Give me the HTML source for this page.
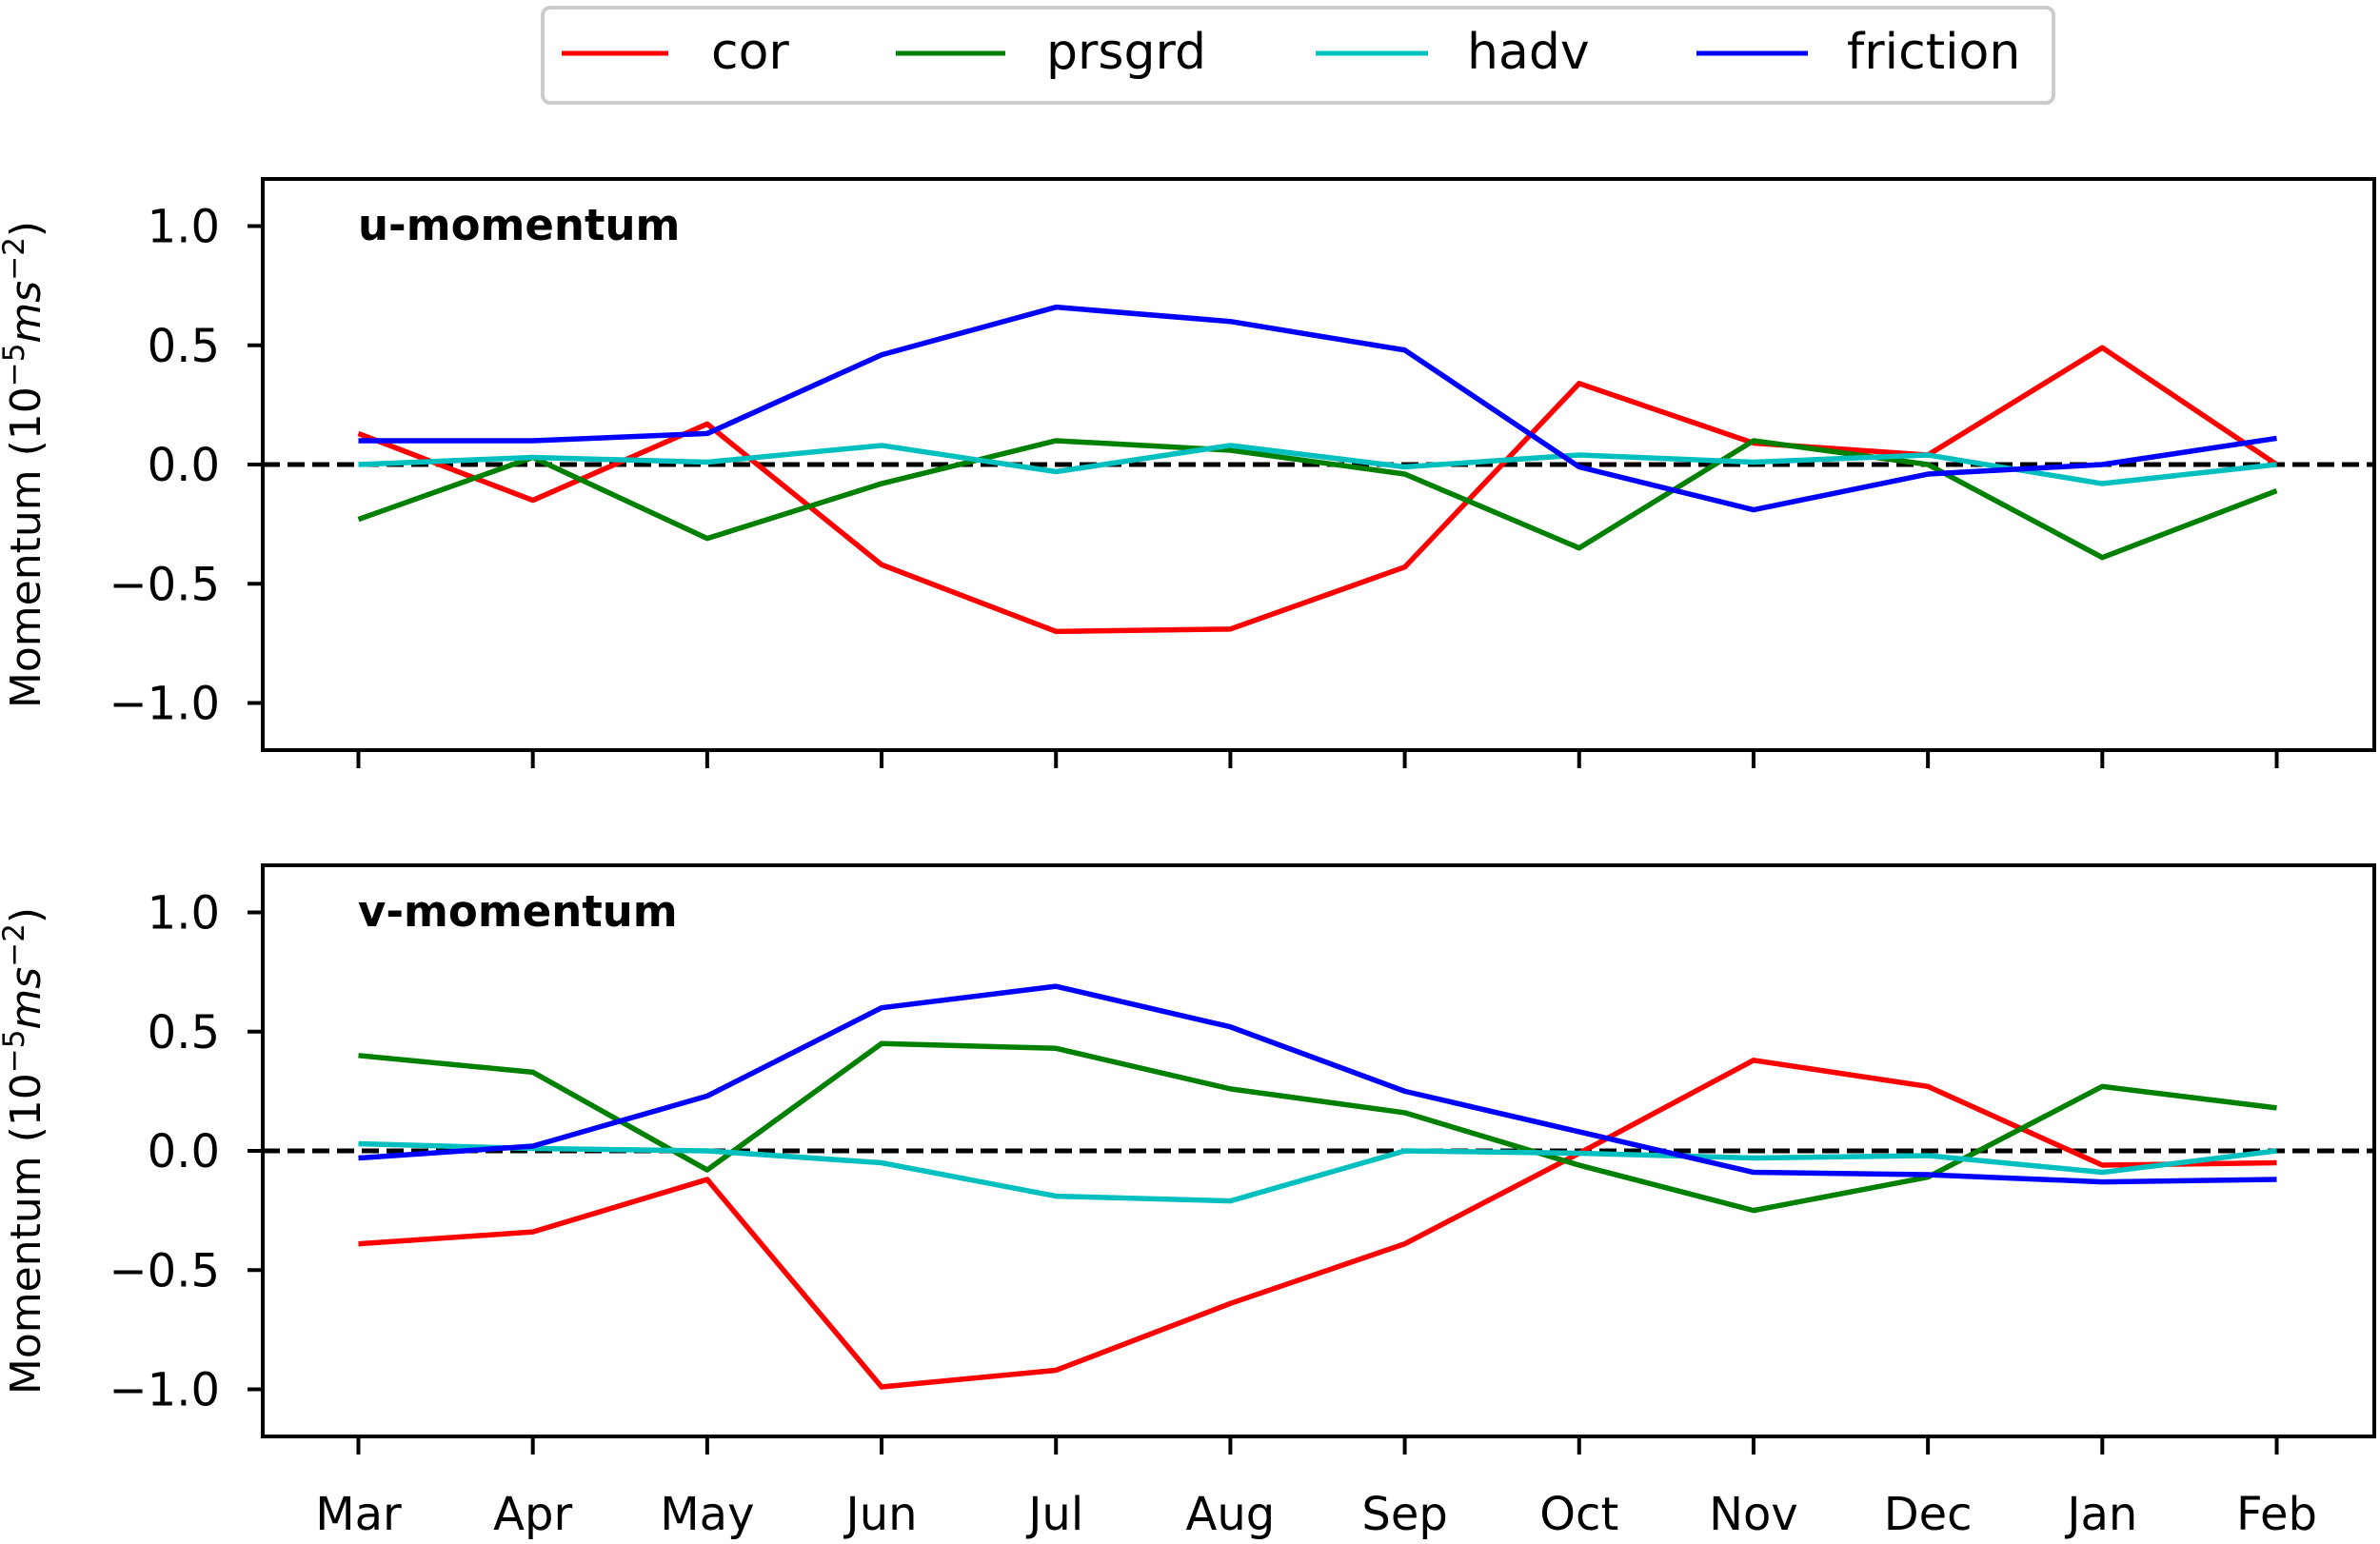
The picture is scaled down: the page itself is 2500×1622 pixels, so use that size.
<!DOCTYPE html>
<html><head><meta charset="utf-8"><style>
html,body{margin:0;padding:0;background:#fff;}
svg{display:block;font-family:"DejaVu Sans","Liberation Sans",sans-serif;}
</style></head><body>
<svg id="chart" width="2500" height="1622" viewBox="0 0 2500 1622" xmlns="http://www.w3.org/2000/svg">
<g>
<rect x="570" y="8" width="1587" height="100" rx="8" fill="#fff" stroke="#ccc" stroke-width="4"/>
<line x1="590" y1="56" x2="702" y2="56" stroke="#f00" stroke-width="5"/>
<text x="747" y="72" font-size="52">cor</text>
<line x1="941" y1="56" x2="1056" y2="56" stroke="#008000" stroke-width="5"/>
<text x="1099" y="72" font-size="52">prsgrd</text>
<line x1="1382" y1="56" x2="1500" y2="56" stroke="#00bfbf" stroke-width="5"/>
<text x="1541" y="72" font-size="52">hadv</text>
<line x1="1782" y1="56" x2="1899" y2="56" stroke="#00f" stroke-width="5"/>
<text x="1940" y="72" font-size="52">friction</text>
</g>
</svg>
<script>
const months=["Mar","Apr","May","Jun","Jul","Aug","Sep","Oct","Nov","Dec","Jan","Feb"];
const yTicks=[1.0,0.5,0.0,-0.5,-1.0];
const uCor=[0.13,-0.15,0.17,-0.42,-0.70,-0.69,-0.43,0.34,0.09,0.04,0.49,0.0];
const uPrs=[-0.23,0.03,-0.31,-0.08,0.10,0.06,-0.04,-0.35,0.10,0.0,-0.39,-0.11];
const uHadv=[0.0,0.03,0.01,0.08,-0.03,0.08,-0.01,0.04,0.01,0.04,-0.08,0.0];
const uFric=[0.10,0.10,0.13,0.46,0.66,0.60,0.48,-0.01,-0.19,-0.04,0.0,0.11];
const vCor=[-0.39,-0.34,-0.12,-0.99,-0.92,-0.64,-0.39,-0.01,0.38,0.27,-0.06,-0.05];
const vPrs=[0.40,0.33,-0.08,0.45,0.43,0.26,0.16,-0.06,-0.25,-0.11,0.27,0.18];
const vHadv=[0.03,0.01,0.0,-0.05,-0.19,-0.21,0.0,-0.01,-0.03,-0.02,-0.09,0.0];
const vFric=[-0.03,0.02,0.23,0.60,0.69,0.52,0.25,0.08,-0.09,-0.10,-0.13,-0.12];

const svg=document.getElementById('chart');
const NS='http://www.w3.org/2000/svg';
function mk(t,a,p){const e=document.createElementNS(NS,t);for(const k in a)e.setAttribute(k,a[k]);(p||svg).appendChild(e);return e;}
const L=276,R=2494;
function xs(i){return 376.5+i*(2391.5-376.5)/11;}
const colors={cor:'#f00',prsgrd:'#008000',hadv:'#00bfbf',friction:'#00f'};
function panel(name,top,bottom,zero,series,label,showX){
  const g=mk('g',{});
  
  
  const ys=v=>zero-v*250.5;
  yTicks.forEach(t=>{
    const y=ys(t);
    mk('line',{x1:L-16,y1:y,x2:L,y2:y,stroke:'#000','stroke-width':4},g);
    const tx=mk('text',{x:231,y:y+17,'font-size':48,'text-anchor':'end'},g);
    
    
    tx.textContent=(t<0?'\u2212':'')+Math.abs(t).toFixed(1);
  });
  months.forEach((m,i)=>{
    mk('line',{x1:xs(i),y1:bottom,x2:xs(i),y2:bottom+19,stroke:'#000','stroke-width':4},g);
    if(showX){
      const tx=mk('text',{x:xs(i),y:bottom+98,'font-size':48,'text-anchor':'middle'},g);
      
      
      tx.textContent=m;
    }
  });
  const zl=mk('line',{x1:L,y1:zero,x2:R,y2:zero,stroke:'#000','stroke-width':5,'stroke-dasharray':'18,8'},g);
  
  
  series.forEach(([k,vals])=>{
    const p=mk('polyline',{points:vals.map((v,i)=>xs(i)+','+ys(v)).join(' '),fill:'none',stroke:colors[k],'stroke-width':5.5,'stroke-linejoin':'round'},g);
    
    
  });
  mk('rect',{x:L,y:top,width:R-L,height:bottom-top,fill:'none',stroke:'#000','stroke-width':4},g);
  const lb=mk('text',{x:376,y:top+64,'font-size':45,'font-weight':'bold'},g);
  
  
  lb.textContent=label;
  const cy=(top+bottom)/2;
  const yl=mk('text',{x:0,y:0,'font-size':44,'text-anchor':'middle',transform:'translate(42,'+cy+') rotate(-90)'},g);
  
  
  yl.innerHTML='Momentum (10<tspan dy="-17" font-size="31">\u22125</tspan><tspan dy="17" font-style="italic">ms</tspan><tspan dy="-17" font-size="31">\u22122</tspan><tspan dy="17">)</tspan>';
}
panel('u-momentum',188,788,488,[['cor',uCor],['prsgrd',uPrs],['hadv',uHadv],['friction',uFric]],'u-momentum',false);
panel('v-momentum',909,1509,1209,[['cor',vCor],['prsgrd',vPrs],['hadv',vHadv],['friction',vFric]],'v-momentum',true);
</script>
</body></html>
